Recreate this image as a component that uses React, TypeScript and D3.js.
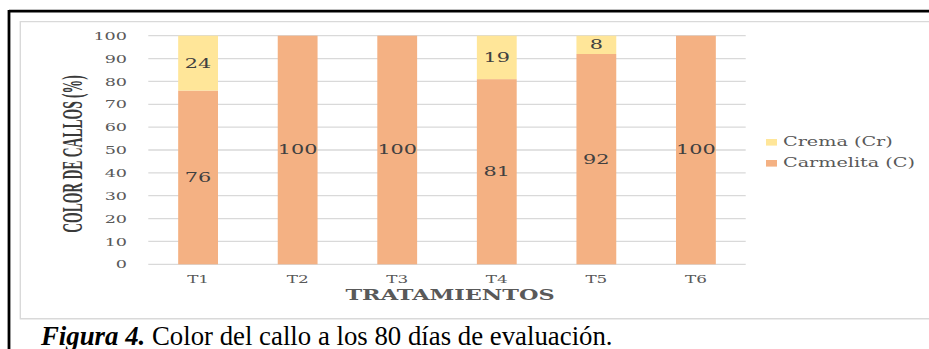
import React from "react";
import * as d3 from "d3";

const categories = ["T1", "T2", "T3", "T4", "T5", "T6"];
const carmelita = [76, 100, 100, 81, 92, 100];
const crema = [24, 0, 0, 19, 8, 0];
const yTicks = [0, 10, 20, 30, 40, 50, 60, 70, 80, 90, 100];
const seriesNames = ["Crema (Cr)", "Carmelita (C)"];
const yTitle = "COLOR DE CALLOS (%)";
const xTitle = "TRATAMIENTOS";
const captionBold = "Figura 4.";
const captionRest = " Color del callo a los 80 días de evaluación.";

const C_CARM = "#F4B183";
const C_CREMA = "#FFE699";
const GRID = "#d9d9d9";
const TXT = "#595959";
const LBL = "#404040";
const SX = 1.6;
const FONT = "'DejaVu Serif', serif";

export default function App() {
  const x = d3
    .scaleBand<string>()
    .domain(categories)
    .range([148.3, 745.7])
    .paddingInner(0.6)
    .paddingOuter(0.3);
  const y = d3.scaleLinear().domain([0, 100]).range([264.3, 35.7]);

  const rows = categories.map((c, i) => ({ c, carm: carmelita[i], crema: crema[i] }));
  const stack = d3.stack<any>().keys(["carm", "crema"])(rows as any);

  return (
    <svg
      width={929}
      height={349}
      style={{ position: "absolute", left: 0, top: 0, background: "#fff" }}
    >
      <rect x={0} y={0} width={929} height={349} fill="#fff" />
      {/* outer black border */}
      <line x1={9} y1={11.2} x2={929} y2={11.2} stroke="#000" strokeWidth={2.8} />
      <line x1={9} y1={10} x2={9} y2={349} stroke="#000" strokeWidth={2.8} />
      {/* inner chart frame */}
      <path d="M929,21.6 H20.3 V318.8 H929" fill="none" stroke={GRID} strokeWidth={1.4} />

      {/* gridlines */}
      {yTicks.map((t) => (
        <line key={t} x1={148.3} x2={745.7} y1={y(t)} y2={y(t)} stroke={GRID} strokeWidth={1.3} />
      ))}

      {/* y tick labels */}
      {yTicks.map((t) => (
        <g key={"yt" + t} transform={`translate(127,${y(t)}) scale(${SX},1)`}>
          <text textAnchor="end" dominantBaseline="central" fontFamily={FONT} fontSize={11} fill={TXT}>
            {t}
          </text>
        </g>
      ))}

      {/* bars */}
      {stack.map((s, si) =>
        s.map((d: any, i: number) => {
          const v = d[1] - d[0];
          if (v <= 0) return null;
          return (
            <rect
              key={si + "-" + i}
              x={x(categories[i])!}
              width={x.bandwidth()}
              y={y(d[1])}
              height={y(d[0]) - y(d[1])}
              fill={si === 0 ? C_CARM : C_CREMA}
            />
          );
        })
      )}

      {/* data labels */}
      {stack.map((s, si) =>
        s.map((d: any, i: number) => {
          const v = d[1] - d[0];
          if (v <= 0) return null;
          const cx = x(categories[i])! + x.bandwidth() / 2;
          const cy = y((d[0] + d[1]) / 2);
          return (
            <g key={"l" + si + "-" + i} transform={`translate(${cx},${cy}) scale(${SX},1)`}>
              <text textAnchor="middle" dominantBaseline="central" fontFamily={FONT} fontSize={13} fill={LBL}>
                {v}
              </text>
            </g>
          );
        })
      )}

      {/* x tick labels */}
      {categories.map((c) => (
        <g key={"xt" + c} transform={`translate(${x(c)! + x.bandwidth() / 2},279) scale(${SX},1)`}>
          <text textAnchor="middle" dominantBaseline="central" fontFamily={FONT} fontSize={10.5} fill={TXT}>
            {c}
          </text>
        </g>
      ))}

      {/* x title */}
      <g transform={`translate(450,294.5) scale(${SX},1)`}>
        <text textAnchor="middle" dominantBaseline="central" fontFamily={FONT} fontWeight="bold" fontSize={14} fill={TXT}>
          {xTitle}
        </text>
      </g>

      {/* y title */}
      <g transform="translate(72,154) rotate(-90) scale(1,2.1)">
        <text
          textAnchor="middle"
          dominantBaseline="central"
          fontFamily="'Liberation Serif', 'Times New Roman', serif"
          fontWeight="bold"
          fontSize={13.6}
          fill="#3a3a3a"
        >
          {yTitle}
        </text>
      </g>

      {/* legend */}
      {seriesNames.map((n, i) => (
        <g key={n} transform={`translate(766,${142.3 + i * 21})`}>
          <rect x={0} y={-3.3} width={11} height={6.6} fill={i === 0 ? C_CREMA : C_CARM} />
          <g transform={`translate(17,0) scale(${SX},1)`}>
            <text dominantBaseline="central" fontFamily={FONT} fontSize={12} fill={TXT}>
              {n}
            </text>
          </g>
        </g>
      ))}

      {/* caption */}
      <text x={41} y={344.5} fontFamily="'Liberation Serif', 'Times New Roman', serif" fontSize={26.8} fill="#000">
        <tspan fontWeight="bold" fontStyle="italic">{captionBold}</tspan>
        <tspan>{captionRest}</tspan>
      </text>
    </svg>
  );
}
